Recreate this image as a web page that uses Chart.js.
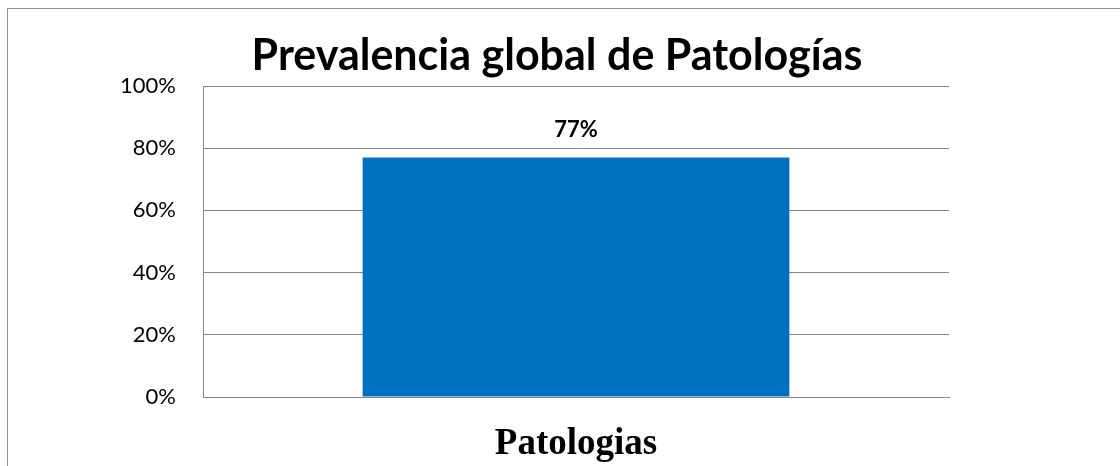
<!DOCTYPE html>
<html>
<head>
<meta charset="utf-8">
<script src="https://cdn.jsdelivr.net/npm/chart.js@4/dist/chart.umd.min.js"></script>
<style>
  html, body { margin: 0; padding: 0; background: #fff; overflow: hidden; }
  #wrap { position: relative; width: 1120px; height: 466px; }
  #marco { position: absolute; left: 7px; top: 8px; width: 1300px; height: 600px; border: 1px solid #8c8c8c; }
  canvas { position: absolute; left: 0; top: 0; }
</style>
</head>
<body>
<div id="wrap">
  <div id="marco"></div>
  <canvas id="grafico" width="1120" height="466"></canvas>
</div>
<script>
const categorias = ["Patologias"];
const valores = [77];
const ticksY = [0, 20, 40, 60, 80, 100];
const titulo = "Prevalencia global de Patologías";

// titulo y etiqueta encima de la barra
const textos = {
  id: "textos",
  afterDatasetsDraw(chart) {
    const ctx = chart.ctx;
    const meta = chart.getDatasetMeta(0);
    ctx.save();
    ctx.fillStyle = "#000";
    ctx.textAlign = "center";
    ctx.textBaseline = "alphabetic";
    ctx.font = "bold 43px Lato";
    ctx.fillText(titulo, 557, 70);
    ctx.font = "bold 22px Lato";
    ctx.textBaseline = "middle";
    meta.data.forEach((bar, i) => {
      ctx.fillText(valores[i] + "%", bar.x, bar.y - 28);
    });
    ctx.restore();
  }
};

const data = {
  labels: categorias,
  datasets: [{
    data: valores,
    backgroundColor: "#0070C0",
    borderWidth: 0,
    barPercentage: 0.572,
    categoryPercentage: 1
  }]
};

const config = {
  type: "bar",
  data: data,
  options: {
    responsive: false,
    animation: false,
    layout: { padding: { top: 86, right: 171, bottom: 0, left: 0 } },
    plugins: {
      legend: { display: false },
      tooltip: { enabled: false },
      title: { display: false }
    },
    scales: {
      x: {
        afterFit(scale) { scale.height = 69; },
        grid: { display: false, drawTicks: false },
        border: { color: "#888", width: 1 },
        ticks: {
          color: "#000",
          padding: 25,
          font: { family: "Liberation Serif", size: 37, weight: "bold" }
        }
      },
      y: {
        min: 0,
        max: 100,
        afterFit(scale) { scale.width = 203; },
        afterBuildTicks(scale) { scale.ticks = ticksY.map(v => ({ value: v })); },
        grid: { color: "#888", drawTicks: false },
        border: { color: "#888", width: 1 },
        ticks: {
          color: "#000",
          padding: 27,
          font: { family: "Lato", size: 22 },
          callback: v => v + "%"
        }
      }
    }
  },
  plugins: [textos]
};

new Chart(document.getElementById("grafico"), config);
</script>
</body>
</html>
